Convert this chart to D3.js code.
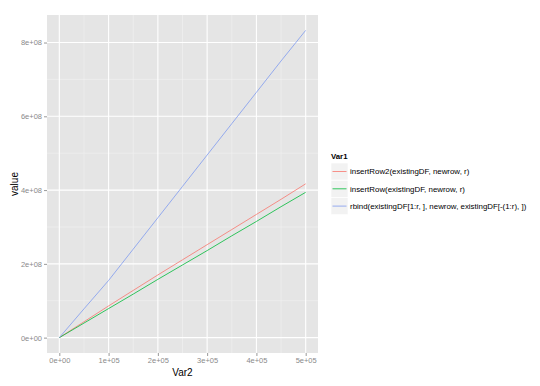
<!DOCTYPE html>
<html>
<head>
<meta charset="utf-8">
<script src="https://cdn.jsdelivr.net/npm/d3@7"></script>
<style>
  body { margin: 0; background: #fff; }
  svg { display: block; font-family: "Liberation Sans", Arial, sans-serif; }
</style>
</head>
<body>
<div id="chart"></div>
<script>
// data
var var2 = [0, 50000, 100000, 150000, 200000, 250000, 300000, 350000, 400000, 450000, 500000];
var seriesNames = ["insertRow2(existingDF, newrow, r)", "insertRow(existingDF, newrow, r)", "rbind(existingDF[1:r, ], newrow, existingDF[-(1:r), ])"];
var insertRow2 = [0, 4.3e7, 8.6e7, 1.28e8, 1.7e8, 2.11e8, 2.52e8, 2.93e8, 3.34e8, 3.75e8, 4.17e8];
var insertRow = [0, 3.94e7, 7.88e7, 1.18e8, 1.58e8, 1.97e8, 2.36e8, 2.76e8, 3.15e8, 3.55e8, 3.94e8];
var rbindVals = [0, 7.8e7, 1.55e8, 2.4e8, 3.25e8, 4.1e8, 4.95e8, 5.8e8, 6.65e8, 7.5e8, 8.33e8];
var xTicks = [0, 100000, 200000, 300000, 400000, 500000];
var yTicks = [0, 2e8, 4e8, 6e8, 8e8];
var colors = ["#F8766D", "#00BA38", "#7F9BEF"];

var W = 540, H = 386;
var panel = {left: 47, top: 15, right: 318, bottom: 353};

var svg = d3.select("#chart").append("svg").attr("width", W).attr("height", H);

var series = [insertRow2, insertRow, rbindVals].map(function (vals, i) {
  return {name: seriesNames[i], color: colors[i], values: vals.map(function (v, j) { return {x: var2[j], y: v}; })};
});

var xMin = d3.min(var2), xMax = d3.max(var2);
var yMax = d3.max(series, function (s) { return d3.max(s.values, function (d) { return d.y; }); });
var xPad = (xMax - xMin) * 0.05, yPad = yMax * 0.05;

var x = d3.scaleLinear().domain([xMin - xPad, xMax + xPad]).range([panel.left, panel.right]);
var y = d3.scaleLinear().domain([-yPad, yMax + yPad]).range([panel.bottom, panel.top]);

function sci(v) {
  if (v === 0) return "0e+00";
  var e = Math.floor(Math.log10(Math.abs(v)));
  var m = Math.round(v / Math.pow(10, e));
  return m + "e+" + (e < 10 ? "0" + e : e);
}

// panel background
svg.append("rect")
  .attr("x", panel.left).attr("y", panel.top)
  .attr("width", panel.right - panel.left).attr("height", panel.bottom - panel.top)
  .attr("fill", "#E5E5E5");

// minor grid
var xMinor = xTicks.slice(0, -1).map(function (t, i) { return (t + xTicks[i + 1]) / 2; });
var yMinor = yTicks.slice(0, -1).map(function (t, i) { return (t + yTicks[i + 1]) / 2; });

var grid = svg.append("g");
grid.selectAll(".xminor").data(xMinor).enter().append("line")
  .attr("x1", function (d) { return x(d); }).attr("x2", function (d) { return x(d); })
  .attr("y1", panel.top).attr("y2", panel.bottom)
  .attr("stroke", "#F2F2F2").attr("stroke-width", 0.6);
grid.selectAll(".yminor").data(yMinor).enter().append("line")
  .attr("y1", function (d) { return y(d); }).attr("y2", function (d) { return y(d); })
  .attr("x1", panel.left).attr("x2", panel.right)
  .attr("stroke", "#F2F2F2").attr("stroke-width", 0.6);
grid.selectAll(".xmajor").data(xTicks).enter().append("line")
  .attr("x1", function (d) { return x(d); }).attr("x2", function (d) { return x(d); })
  .attr("y1", panel.top).attr("y2", panel.bottom)
  .attr("stroke", "#fff").attr("stroke-width", 1.1);
grid.selectAll(".ymajor").data(yTicks).enter().append("line")
  .attr("y1", function (d) { return y(d); }).attr("y2", function (d) { return y(d); })
  .attr("x1", panel.left).attr("x2", panel.right)
  .attr("stroke", "#fff").attr("stroke-width", 1.1);

// lines
var line = d3.line().x(function (d) { return x(d.x); }).y(function (d) { return y(d.y); });
svg.append("g").selectAll("path").data(series).enter().append("path")
  .attr("d", function (s) { return line(s.values); })
  .attr("fill", "none")
  .attr("stroke", function (s) { return s.color; })
  .attr("stroke-width", 0.8);

// axes
var xAxis = svg.append("g")
  .attr("transform", "translate(0," + panel.bottom + ")")
  .call(d3.axisBottom(x).tickValues(xTicks).tickFormat(sci).tickSize(3).tickPadding(2));
var yAxis = svg.append("g")
  .attr("transform", "translate(" + panel.left + ",0)")
  .call(d3.axisLeft(y).tickValues(yTicks).tickFormat(sci).tickSize(3).tickPadding(2));

[xAxis, yAxis].forEach(function (a) {
  a.select(".domain").remove();
  a.selectAll(".tick line").attr("stroke", "#7F7F7F").attr("stroke-width", 0.8);
  a.selectAll(".tick text").attr("fill", "#8A8A8A").attr("font-size", "7.5px")
    .attr("font-family", "'Liberation Sans', Arial, sans-serif");
});

// axis titles
svg.append("text")
  .attr("x", (panel.left + panel.right) / 2).attr("y", 376)
  .attr("text-anchor", "middle").attr("font-size", "10px").attr("fill", "#000")
  .text("Var2");
svg.append("text")
  .attr("transform", "translate(18," + ((panel.top + panel.bottom) / 2) + ") rotate(-90)")
  .attr("text-anchor", "middle").attr("font-size", "10px").attr("fill", "#000")
  .text("value");

// legend
var legend = svg.append("g").attr("transform", "translate(331,163)");
legend.append("text")
  .attr("x", 0).attr("y", -4)
  .attr("font-size", "7.8px").attr("font-weight", "bold")
  .text("Var1");
var keys = legend.selectAll(".key").data(series).enter().append("g")
  .attr("transform", function (d, i) { return "translate(0," + (i * 17.3) + ")"; });
keys.append("rect")
  .attr("width", 17).attr("height", 17)
  .attr("fill", "#F2F2F2").attr("stroke", "#fff").attr("stroke-width", 0.6);
keys.append("line")
  .attr("x1", 1.5).attr("x2", 15.5).attr("y1", 8.5).attr("y2", 8.5)
  .attr("stroke", function (d) { return d.color; }).attr("stroke-width", 0.8);
keys.append("text")
  .attr("x", 19).attr("y", 11.3)
  .attr("font-size", "7.9px").attr("fill", "#000")
  .text(function (d) { return d.name; });
</script>
</body>
</html>
